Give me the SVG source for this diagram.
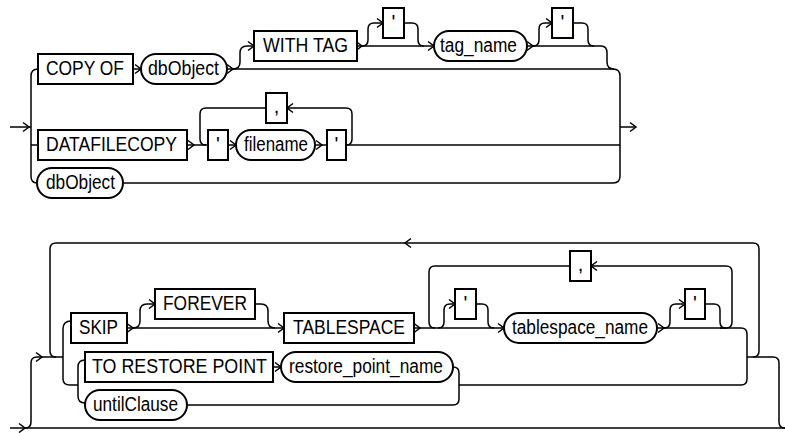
<svg xmlns="http://www.w3.org/2000/svg" width="785" height="433" viewBox="0 0 785 433">
<style>
.ln{fill:none;stroke:#000;stroke-width:1.5}
.bx{fill:#fff;stroke:#000;stroke-width:2}
.tx{font-family:"Liberation Sans",Arial,sans-serif;font-size:20px;fill:#000}
.q{font-family:"Liberation Sans",Arial,sans-serif;font-size:20px;fill:#000;text-anchor:middle}
</style>
<defs>
<path id="ar" class="ln" d="M-6,-4.5 L0,0 L-6,4.5"/>
<path id="al" class="ln" d="M6,-4.5 L0,0 L6,4.5"/>
</defs>
<rect width="785" height="433" fill="#fff"/>
<g id="connectors" class="ln">
<path d="M10,127 H31"/>
<path d="M38,69 Q31,69 31,76 V176 Q31,183 37,183"/>
<path d="M31,145 H38"/>
<path d="M133,69 H141"/>
<path d="M227,69 H613 Q620,69 620,76 V176 Q620,183 613,183 H123"/>
<path d="M233,69 Q240,69 240,62 V53 Q240,46 247,46 H254"/>
<path d="M357,46 H434"/>
<path d="M362,46 Q368,46 368,40 V29 Q368,23 374,23 H383"/>
<path d="M404,23 H412 Q418,23 418,29 V40 Q418,46 424,46"/>
<path d="M527,46 H601 Q607,46 607,53 V62 Q607,69 614,69"/>
<path d="M533,46 Q539,46 539,40 V29 Q539,23 545,23 H552"/>
<path d="M573,23 H582 Q588,23 588,29 V40 Q588,46 594,46"/>
<path d="M187,145 H208"/>
<path d="M266,108 H206 Q200,108 200,114 V139 Q200,145 206,145"/>
<path d="M228,145 H236"/>
<path d="M315,145 H327"/>
<path d="M346,145 H620"/>
<path d="M346,145 Q352,145 352,139 V114 Q352,108 346,108 H287"/>
<path d="M620,127 H636"/>
<path d="M10,428 H785"/>
<path d="M25,428 Q31,428 31,422 V363 Q31,357 37,357 H63"/>
<path d="M753,357 Q759,357 759,351 V249 Q759,243 753,243 H56 Q50,243 50,249 V351 Q50,357 56,357"/>
<path d="M71,321 Q63,321 63,329 V379 Q63,385 70,385 H78"/>
<path d="M85,360 Q78,360 78,367 V396 Q78,403 85,403"/>
<path d="M127,328 H284"/>
<path d="M133,328 Q140,328 140,321 V311 Q140,304 147,304 H155"/>
<path d="M255,304 H261 Q268,304 268,311 V321 Q268,328 275,328"/>
<path d="M414,328 H504"/>
<path d="M570,266 H435 Q429,266 429,272 V322 Q429,328 435,328"/>
<path d="M438,328 Q444,328 444,322 V310 Q444,304 450,304 H455"/>
<path d="M476,304 H482 Q488,304 488,310 V322 Q488,328 494,328"/>
<path d="M657,328 H741 Q747,328 747,334 V379 Q747,385 741,385 H459"/>
<path d="M664,328 Q670,328 670,322 V310 Q670,304 676,304 H685"/>
<path d="M705,304 H714 Q720,304 720,310 V322 Q720,328 726,328"/>
<path d="M720,328 H726 Q732,328 732,322 V272 Q732,266 726,266 H591"/>
<path d="M273,367 H281"/>
<path d="M453,367 Q459,367 459,373 V399 Q459,405 453,405 H187"/>
<path d="M747,357 H773 Q779,357 779,363 V422 Q779,428 785,428"/>
<use href="#ar" x="29" y="127"/>
<use href="#ar" x="141" y="69"/>
<use href="#ar" x="233" y="69"/>
<use href="#ar" x="254" y="46"/>
<use href="#ar" x="362" y="46"/>
<use href="#ar" x="383" y="23"/>
<use href="#ar" x="434" y="46"/>
<use href="#ar" x="533" y="46"/>
<use href="#ar" x="552" y="23"/>
<use href="#ar" x="194" y="145"/>
<use href="#ar" x="236" y="145"/>
<use href="#ar" x="322" y="145"/>
<use href="#ar" x="636" y="127"/>
<use href="#al" x="287" y="108"/>
<use href="#ar" x="25" y="428"/>
<use href="#ar" x="42" y="357"/>
<use href="#ar" x="133" y="328"/>
<use href="#ar" x="155" y="304"/>
<use href="#ar" x="284" y="328"/>
<use href="#ar" x="420" y="328"/>
<use href="#ar" x="455" y="304"/>
<use href="#ar" x="504" y="328"/>
<use href="#ar" x="664" y="328"/>
<use href="#ar" x="685" y="304"/>
<use href="#ar" x="281" y="367"/>
<use href="#al" x="405" y="243"/>
<use href="#al" x="591" y="266"/>
</g>
<g id="copyof"><rect class="bx" x="38" y="54" width="95" height="30"/><text class="tx" x="46" y="75" textLength="78" lengthAdjust="spacingAndGlyphs">COPY OF</text></g>
<g id="dbobject1"><rect class="bx" x="141" y="54" width="86" height="30" rx="15"/><text class="tx" x="148" y="75" textLength="71" lengthAdjust="spacingAndGlyphs">dbObject</text></g>
<g id="withtag"><rect class="bx" x="254" y="31" width="103" height="30"/><text class="tx" x="263" y="52" textLength="85" lengthAdjust="spacingAndGlyphs">WITH TAG</text></g>
<g id="quote1"><rect class="bx" x="383" y="8" width="21" height="30"/><text class="q" x="393.5" y="29">'</text></g>
<g id="tagname"><rect class="bx" x="434" y="31" width="93" height="30" rx="15"/><text class="tx" x="440" y="52" textLength="77" lengthAdjust="spacingAndGlyphs">tag_name</text></g>
<g id="quote2"><rect class="bx" x="552" y="8" width="21" height="30"/><text class="q" x="562.5" y="29">'</text></g>
<g id="datafilecopy"><rect class="bx" x="38" y="130" width="149" height="30"/><text class="tx" x="46" y="151" textLength="131" lengthAdjust="spacingAndGlyphs">DATAFILECOPY</text></g>
<g id="quote3"><rect class="bx" x="208" y="130" width="20" height="30"/><text class="q" x="218" y="151">'</text></g>
<g id="filename"><rect class="bx" x="236" y="130" width="79" height="30" rx="15"/><text class="tx" x="244" y="151" textLength="64" lengthAdjust="spacingAndGlyphs">filename</text></g>
<g id="quote4"><rect class="bx" x="327" y="130" width="19" height="30"/><text class="q" x="336.5" y="151">'</text></g>
<g id="comma1"><rect class="bx" x="266" y="93" width="21" height="30"/><text class="q" x="276.5" y="113">,</text></g>
<g id="dbobject2"><rect class="bx" x="37" y="168" width="86" height="30" rx="15"/><text class="tx" x="46" y="189" textLength="69" lengthAdjust="spacingAndGlyphs">dbObject</text></g>
<g id="skip"><rect class="bx" x="71" y="313" width="56" height="30"/><text class="tx" x="79" y="334" textLength="39" lengthAdjust="spacingAndGlyphs">SKIP</text></g>
<g id="forever"><rect class="bx" x="155" y="289" width="100" height="30"/><text class="tx" x="163" y="310" textLength="84" lengthAdjust="spacingAndGlyphs">FOREVER</text></g>
<g id="tablespace"><rect class="bx" x="284" y="313" width="130" height="30"/><text class="tx" x="293" y="334" textLength="112" lengthAdjust="spacingAndGlyphs">TABLESPACE</text></g>
<g id="quote5"><rect class="bx" x="455" y="289" width="21" height="30"/><text class="q" x="465.5" y="310">'</text></g>
<g id="tablespacename"><rect class="bx" x="504" y="313" width="153" height="30" rx="15"/><text class="tx" x="512" y="334" textLength="136" lengthAdjust="spacingAndGlyphs">tablespace_name</text></g>
<g id="quote6"><rect class="bx" x="685" y="289" width="20" height="30"/><text class="q" x="695" y="310">'</text></g>
<g id="comma2"><rect class="bx" x="570" y="251" width="21" height="30"/><text class="q" x="580.5" y="271">,</text></g>
<g id="torestorepoint"><rect class="bx" x="85" y="352" width="188" height="30"/><text class="tx" x="92" y="373" textLength="175" lengthAdjust="spacingAndGlyphs">TO RESTORE POINT</text></g>
<g id="restorepointname"><rect class="bx" x="281" y="352" width="172" height="30" rx="15"/><text class="tx" x="289" y="373" textLength="154" lengthAdjust="spacingAndGlyphs">restore_point_name</text></g>
<g id="untilclause"><rect class="bx" x="85" y="390" width="102" height="30" rx="15"/><text class="tx" x="93" y="411" textLength="85" lengthAdjust="spacingAndGlyphs">untilClause</text></g>
</svg>
